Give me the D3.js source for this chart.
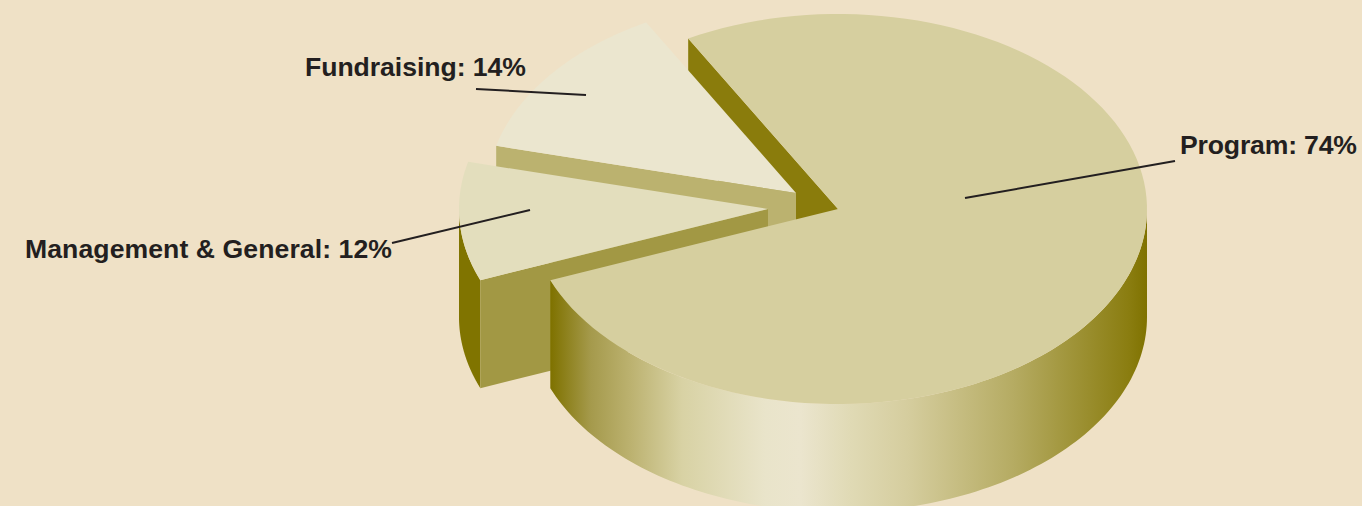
<!DOCTYPE html>
<html>
<head>
<meta charset="utf-8">
<style>
  html, body { margin: 0; padding: 0; background: #efe1c6; }
  svg { display: block; }
  text { font-family: "Liberation Sans", Arial, sans-serif; font-weight: 700; font-size: 26.6px; fill: #231f20; }
</style>
<script src="https://cdn.jsdelivr.net/npm/d3@7"></script>
</head>
<body>
<script>
// Expense shares, clockwise from the start of the Program slice.
const categories = ["Program", "Management & General", "Fundraising"];
const shares = [74, 12, 14];

// Look of each slice: lid colour, colour of its visible cut face.
const lidColors = ["#d6cf9f", "#e3debd", "#ebe6cf"];
const faceColors = ["#8a7c0c", "#a29844", "#bbb26f"];
const mgmtRimColor = "#807400";

// Where each slice's apex sits once pulled out of the pie.
const apexX = [838, 768, 796];
const apexY = [209, 209, 193];

// Callouts: label anchor, set width, and the two ends of the leader line.
const labelX = [1180, 25, 305];
const labelY = [154, 258, 76];
const labelWidth = [177, 367, 221];
const leaderFromX = [965, 530, 586];
const leaderFromY = [198, 210, 95];
const leaderToX = [1175, 392, 476];
const leaderToY = [161, 243, 89];

// Horizontal shading of the Program slice's curved wall.
const wallStopX = [551, 591, 631, 682, 765, 800, 850, 908, 1014, 1129, 1147];
const wallStopColor = ["#7f7200", "#a59a4c", "#bcb270", "#d8d2a4", "#e9e4ca", "#ebe5ce",
                       "#e0dab5", "#d5cd9e", "#b5ab62", "#8a7d10", "#7f7200"];

const width = 1362, height = 506;
const rx = 309, ry = 195, depth = 108;
const rad = Math.PI / 180;

const svg = d3.select("body").append("svg")
  .attr("width", width).attr("height", height)
  .attr("viewBox", [0, 0, width, height]);
svg.append("rect").attr("width", width).attr("height", height).attr("fill", "#efe1c6");

// d3.pie measures from twelve o'clock, clockwise.
const pieStart = 342.46 * rad;
const arcs = d3.pie().sort(null).startAngle(pieStart).endAngle(pieStart + 2 * Math.PI)(shares);

// The tilted view squeezes angles slightly on the far left of the disc.
const viewAngle = pieAngle => {
  const t = pieAngle - Math.PI / 2;
  return t - 11.5 * rad * Math.sin(t - 157.6 * rad);
};
const rimPoint = (i, a, drop = 0) => [
  apexX[i] + rx * Math.cos(a),
  apexY[i] + ry * Math.sin(a) + drop
];
const sweep = (a0, a1) => d3.range(0, 121).map(k => a0 + (a1 - a0) * k / 120);
const line = d3.line();
const closed = pts => line(pts) + "Z";

const spans = arcs.map(d => [viewAngle(d.startAngle), viewAngle(d.endAngle)]);
const lid = i => closed([[apexX[i], apexY[i]], ...sweep(spans[i][0], spans[i][1]).map(a => rimPoint(i, a))]);
const cutFace = (i, a) => closed([
  [apexX[i], apexY[i]], rimPoint(i, a), rimPoint(i, a, depth), [apexX[i], apexY[i] + depth]
]);
const wall = (i, a0, a1) => {
  const s = sweep(a0, a1);
  return closed([...s.map(a => rimPoint(i, a)), ...s.slice().reverse().map(a => rimPoint(i, a, depth))]);
};

const grad = svg.append("defs").append("linearGradient")
  .attr("id", "programWall").attr("gradientUnits", "userSpaceOnUse")
  .attr("x1", wallStopX[0]).attr("x2", wallStopX[wallStopX.length - 1])
  .attr("y1", 0).attr("y2", 0);
const stopOffset = d3.scaleLinear().domain(d3.extent(wallStopX)).range([0, 1]);
grad.selectAll("stop").data(wallStopX).join("stop")
  .attr("offset", d => stopOffset(d))
  .attr("stop-color", (d, i) => wallStopColor[i]);

const [PROGRAM, MGMT, FUND] = [0, 1, 2];
const pies = svg.append("g");
const shape = (d, fill) => pies.append("path").attr("d", d).attr("fill", fill);

// Painted back to front. Angles past the first full turn stay unwrapped,
// so the walls end at the matching half turn of the same lap.
shape(cutFace(PROGRAM, spans[PROGRAM][0]), faceColors[PROGRAM]);
shape(cutFace(FUND, spans[FUND][0]), faceColors[FUND]);
shape(lid(FUND), lidColors[FUND]);
shape(wall(MGMT, spans[MGMT][0], 3 * Math.PI), mgmtRimColor);
shape(cutFace(MGMT, spans[MGMT][0]), faceColors[MGMT]);
shape(lid(MGMT), lidColors[MGMT]);
shape(wall(PROGRAM, 2 * Math.PI, spans[PROGRAM][1]), "url(#programWall)");
shape(lid(PROGRAM), lidColors[PROGRAM]);

// Leader lines and labels.
svg.append("g").selectAll("line").data(categories).join("line")
  .attr("x1", (d, i) => leaderFromX[i]).attr("y1", (d, i) => leaderFromY[i])
  .attr("x2", (d, i) => leaderToX[i]).attr("y2", (d, i) => leaderToY[i])
  .attr("stroke", "#231f20").attr("stroke-width", 2);
svg.append("g").selectAll("text").data(categories).join("text")
  .attr("x", (d, i) => labelX[i]).attr("y", (d, i) => labelY[i])
  .attr("textLength", (d, i) => labelWidth[i])
  .attr("lengthAdjust", "spacing")
  .text((d, i) => `${d}: ${shares[i]}%`);
</script>
</body>
</html>
